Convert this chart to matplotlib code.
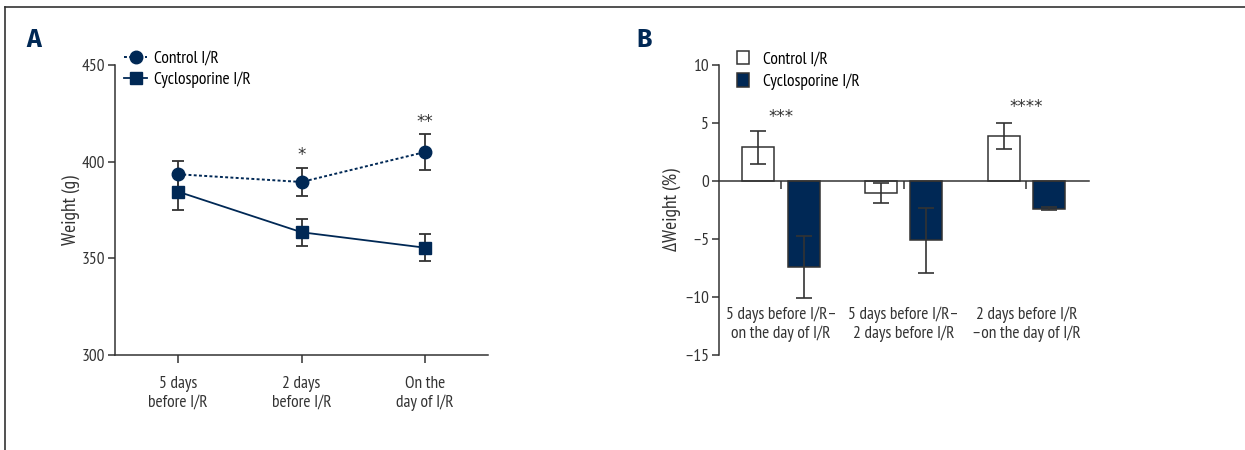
import matplotlib
matplotlib.use("Agg")
import matplotlib.pyplot as plt
import numpy as np
from matplotlib.patches import Patch
from matplotlib.lines import Line2D

plt.rcParams['font.family'] = ['PT Sans Narrow', 'DejaVu Sans']

NAVY = '#002855'
INK = '#333333'
STAR_FONT = ['DejaVu Sans']
FS = 12.5

# panel A: body weight over time
time_labels = ['5 days\nbefore I/R', '2 days\nbefore I/R', 'On the\nday of I/R']
control_w = [393.5, 389.5, 405.0]
control_w_err = [7.0, 7.0, 9.5]
cyclo_w = [384.5, 363.5, 355.5]
cyclo_w_err = [9.5, 7.0, 7.0]
weight_stars = ['', '*', '**']
weight_star_y = [None, 403.5, 420.5]

# panel B: relative weight change
period_labels = ['5 days before I/R–\non the day of I/R',
                 '5 days before I/R–\n2 days before I/R',
                 '2 days before I/R\n–on the day of I/R']
control_d = [2.9, -1.05, 3.9]
control_d_err = [1.4, 0.85, 1.1]
cyclo_d = [-7.4, -5.1, -2.4]
cyclo_d_err = [2.7, 2.8, 0.12]
delta_stars = ['***', '', '****']
delta_star_y = [5.5, None, 6.4]

fig = plt.figure(figsize=(12.45, 4.5), dpi=100)

# ---- A ----
ax = fig.add_axes([0.0924, 0.2111, 0.2996, 0.6444])
x = np.arange(len(time_labels))
ax.errorbar(x, control_w, yerr=control_w_err, fmt='none', ecolor=INK, elinewidth=1.3,
            capsize=4.3, capthick=1.3, zorder=2)
ax.errorbar(x, cyclo_w, yerr=cyclo_w_err, fmt='none', ecolor=INK, elinewidth=1.3,
            capsize=4.3, capthick=1.3, zorder=2)
ax.plot(x, control_w, color=NAVY, linestyle=(0, (1.5, 1.2)), linewidth=1.4,
        marker='o', markersize=9, zorder=3)
ax.plot(x, cyclo_w, color=NAVY, linestyle='-', linewidth=1.3,
        marker='s', markersize=9, zorder=3)
for xi, s, yy in zip(x, weight_stars, weight_star_y):
    if s:
        ax.text(xi, yy, s, ha='center', va='center', fontsize=12, color=INK, family=STAR_FONT)

ax.set_xlim(-0.51, 2.51)
ax.set_ylim(300, 450)
ax.set_yticks([300, 350, 400, 450])
ax.set_xticks(x)
ax.set_xticklabels(time_labels, linespacing=1.25)
ax.set_ylabel('Weight (g)', fontsize=14, color=INK, labelpad=1.5)
for side in ['top', 'right']:
    ax.spines[side].set_visible(False)
for side in ['left', 'bottom']:
    ax.spines[side].set_color(INK)
    ax.spines[side].set_linewidth(1.1)
ax.tick_params(axis='both', colors=INK, labelsize=FS, width=1.1)
ax.tick_params(axis='y', length=5, pad=2)
ax.tick_params(axis='x', length=6, pad=9)

handles = [Line2D([], [], color=NAVY, linestyle=(0, (1.5, 1.2)), lw=1.4, marker='o', markersize=9),
           Line2D([], [], color=NAVY, linestyle='-', lw=1.3, marker='s', markersize=9)]
ax.legend(handles, ['Control I/R', 'Cyclosporine I/R'], loc='upper left',
          bbox_to_anchor=(0.025, 1.05), borderaxespad=0, frameon=False, fontsize=FS,
          handlelength=1.3, handletextpad=0.4, labelspacing=0.3, borderpad=0)

# ---- B ----
bx = fig.add_axes([0.5775, 0.2111, 0.2972, 0.6444])
g = np.arange(len(period_labels))
off = 0.185
w = 0.26
bx.bar(g - off, control_d, width=w, color='white', edgecolor=INK, linewidth=1.1, zorder=2)
bx.bar(g + off, cyclo_d, width=w, color=NAVY, edgecolor=INK, linewidth=1.1, zorder=2)
bx.errorbar(g - off, control_d, yerr=control_d_err, fmt='none', ecolor=INK,
            elinewidth=1.2, capsize=6, capthick=1.2, zorder=3)
bx.errorbar(g + off, cyclo_d, yerr=cyclo_d_err, fmt='none', ecolor=INK,
            elinewidth=1.2, capsize=6, capthick=1.2, zorder=3)
for gi, s, yy in zip(g, delta_stars, delta_star_y):
    if s:
        bx.text(gi, yy, s, ha='center', va='center', fontsize=12, color=INK, family=STAR_FONT)

bx.set_xlim(-0.505, 2.51)
bx.set_ylim(-15, 10)
bx.set_yticks([-15, -10, -5, 0, 5, 10])
bx.set_yticklabels(['–15', '–10', '–5', '0', '5', '10'])
bx.set_xticks(g)
bx.set_xticklabels(period_labels, linespacing=1.25)
bx.set_ylabel('ΔWeight (%)', fontsize=14, color=INK, labelpad=2)
bx.spines['bottom'].set_position(('data', 0))
for side in ['top', 'right']:
    bx.spines[side].set_visible(False)
for side in ['left', 'bottom']:
    bx.spines[side].set_color(INK)
    bx.spines[side].set_linewidth(1.1)
bx.tick_params(axis='both', colors=INK, labelsize=FS, width=1.1)
bx.tick_params(axis='y', length=5, pad=2)
bx.tick_params(axis='x', length=6, pad=84)

bhandles = [Patch(facecolor='white', edgecolor=INK, linewidth=1.1),
            Patch(facecolor=NAVY, edgecolor=INK, linewidth=1.1)]
bx.legend(bhandles, ['Control I/R', 'Cyclosporine I/R'], loc='upper left',
          bbox_to_anchor=(0.05, 1.05), borderaxespad=0, frameon=False, fontsize=FS,
          handlelength=0.65, handleheight=0.85, handletextpad=0.8, labelspacing=0.3,
          borderpad=0)

# panel letters and frame
fig.text(34 / 1245, 1 - 40 / 450, 'A', fontsize=18, fontweight='bold', color=NAVY,
         ha='center', va='center', family=['Fira Sans', 'DejaVu Sans'])
fig.text(644 / 1245, 1 - 40 / 450, 'B', fontsize=18, fontweight='bold', color=NAVY,
         ha='center', va='center', family=['Fira Sans', 'DejaVu Sans'])
fig.add_artist(Line2D([5 / 1245, 1], [1 - 7 / 450, 1 - 7 / 450], color=INK, lw=1.2))
fig.add_artist(Line2D([5 / 1245, 5 / 1245], [0, 1 - 7 / 450], color=INK, lw=1.2))

fig.savefig('out.png', dpi=100)
